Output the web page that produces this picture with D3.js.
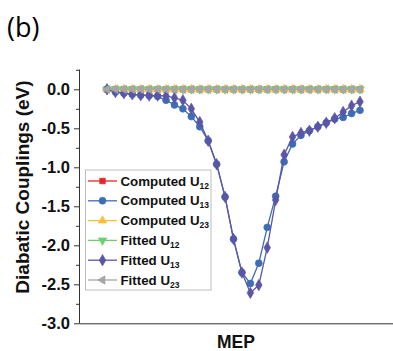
<!DOCTYPE html>
<html>
<head>
<meta charset="utf-8">
<script src="https://cdn.jsdelivr.net/npm/d3@7"></script>
<style>
  body { margin: 0; background: #fff; }
  text { font-family: Arial, "Liberation Sans", sans-serif; }
</style>
</head>
<body>
<div id="chart"></div>
<script>
// values, one per MEP point (31 points)
var mepIndex = d3.range(31);
var computedU12 = [0,0,0,0,0,0,0,0,0,0,0,0,0,0,0,0,0,0,0,0,0,0,0,0,0,0,0,0,0,0,0];
var computedU23 = [0,0,0,0,0,0,0,0,0,0,0,0,0,0,0,0,0,0,0,0,0,0,0,0,0,0,0,0,0,0,0];
var fittedU12   = [0,0,0,0,0,0,0,0,0,0,0,0,0,0,0,0,0,0,0,0,0,0,0,0,0,0,0,0,0,0,0];
var fittedU23   = [0,0,0,0,0,0,0,0,0,0,0,0,0,0,0,0,0,0,0,0,0,0,0,0,0,0,0,0,0,0,0];
var computedU13 = [0,-0.035,-0.05,-0.065,-0.075,-0.08,-0.09,-0.14,-0.2,-0.25,-0.35,-0.48,-0.66,-0.96,-1.38,
                   -1.92,-2.35,-2.49,-2.23,-1.77,-1.37,-0.93,-0.70,-0.59,-0.53,-0.48,-0.43,-0.38,-0.36,-0.31,-0.27];
var fittedU13   = [0,-0.035,-0.05,-0.065,-0.075,-0.08,-0.08,-0.085,-0.11,-0.14,-0.25,-0.42,-0.66,-0.96,-1.38,
                   -1.92,-2.35,-2.61,-2.51,-2.03,-1.42,-0.84,-0.61,-0.56,-0.53,-0.48,-0.43,-0.37,-0.29,-0.21,-0.16];
var yMajorTicks = [0.0,-0.5,-1.0,-1.5,-2.0,-2.5,-3.0];
var yMinorTicks = [0.25,-0.25,-0.75,-1.25,-1.75,-2.25,-2.75];

var series = [
  {name:"Computed U", sub:"12", values:computedU12, color:"#e3262b", symbol:d3.symbolSquare, size:32, rot:0},
  {name:"Computed U", sub:"13", values:computedU13, color:"#3d6db5", symbol:d3.symbolCircle, size:38, rot:0},
  {name:"Computed U", sub:"23", values:computedU23, color:"#f2c33a", symbol:d3.symbolTriangle, size:32, rot:0},
  {name:"Fitted U",   sub:"12", values:fittedU12,   color:"#6fcf6f", symbol:d3.symbolTriangle, size:32, rot:180},
  {name:"Fitted U",   sub:"13", values:fittedU13,   color:"#5b55a6", symbol:d3.symbolDiamond, size:38, rot:0},
  {name:"Fitted U",   sub:"23", values:fittedU23,   color:"#a6a6a6", symbol:d3.symbolTriangle, size:32, rot:-90}
];

var width = 393, height = 351;
var svg = d3.select("#chart").append("svg")
  .attr("width", width).attr("height", height);

var x = d3.scaleLinear().domain([0, 30]).range([107, 360]);
var y = d3.scaleLinear().domain([0.0, -3.0]).range([89.3, 323.3]);
var axisLeftX = 79, axisRightX = 393;

// panel label
svg.append("text").attr("x", 7).attr("y", 37)
  .style("font-size", "27px").style("font-family", "'Open Sans', sans-serif")
  .text("(b)");

// y axis
var yTop = y.invert(69);
var yAxisScale = y.copy().domain([yTop, -3.0]).range([69, 323.3]);
var gy = svg.append("g").attr("transform", "translate(" + axisLeftX + ",0)");
gy.call(d3.axisLeft(yAxisScale).tickValues(yMajorTicks).tickSize(5).tickSizeOuter(0)
  .tickFormat(d3.format(".1f")).tickPadding(4));
gy.selectAll(".tick text").style("font-size", "16.5px").style("font-weight", "bold")
  .attr("fill", "#111").text(function(d){ return d3.format(".1f")(d).replace("−", "-"); });
gy.append("g").call(d3.axisLeft(yAxisScale).tickValues(yMinorTicks).tickSize(3)
  .tickSizeOuter(0).tickFormat(""))
  .select(".domain").remove();
gy.selectAll("line, path").attr("stroke", "#333");

// x axis (no ticks)
var xAxisScale = x.copy().domain([x.invert(axisLeftX), x.invert(axisRightX)]).range([axisLeftX, axisRightX]);
var gx = svg.append("g").attr("transform", "translate(0," + y(-3.0) + ")");
gx.call(d3.axisBottom(xAxisScale).tickValues([]).tickSizeOuter(0));
gx.select(".domain").attr("stroke", "#333");

svg.append("text").attr("x", 236).attr("y", 348).attr("text-anchor", "middle")
  .style("font-size", "17.5px").style("font-weight", "bold").attr("fill", "#111")
  .text("MEP");

svg.append("text").attr("transform", "translate(29,187) rotate(-90)")
  .attr("text-anchor", "middle")
  .style("font-size", "19px").style("font-weight", "bold").attr("fill", "#111")
  .text("Diabatic Couplings (eV)");

// series
var line = d3.line().x(function(d, i){ return x(mepIndex[i]); }).y(function(d){ return y(d); });
series.forEach(function(s){
  var g = svg.append("g");
  g.append("path").datum(s.values).attr("d", line)
    .attr("fill", "none").attr("stroke", s.color).attr("stroke-width", 1.3);
  g.selectAll("path.mk").data(s.values).enter().append("path")
    .attr("class", "mk")
    .attr("d", d3.symbol().type(s.symbol).size(s.size))
    .attr("transform", function(d, i){ return "translate(" + x(mepIndex[i]) + "," + y(d) + ") rotate(" + s.rot + ")"; })
    .attr("fill", s.color).attr("stroke", s.color).attr("stroke-width", 0.6);
});

// legend
var lg = svg.append("g");
lg.append("rect").attr("x", 85.5).attr("y", 170).attr("width", 125.5).attr("height", 120)
  .attr("fill", "#fff").attr("stroke", "#bdbdbd").attr("stroke-width", 1);
series.forEach(function(s, i){
  var cy = 181 + i * 19.8;
  lg.append("line").attr("x1", 88).attr("x2", 117).attr("y1", cy).attr("y2", cy)
    .attr("stroke", s.color).attr("stroke-width", 1.3);
  lg.append("path").attr("d", d3.symbol().type(s.symbol).size(s.size))
    .attr("transform", "translate(102.5," + cy + ") rotate(" + s.rot + ")")
    .attr("fill", s.color).attr("stroke", s.color).attr("stroke-width", 0.6);
  var t = lg.append("text").attr("x", 120.5).attr("y", cy + 4.5)
    .style("font-size", "13.3px").style("font-weight", "bold").attr("fill", "#111");
  t.append("tspan").text(s.name);
  t.append("tspan").attr("dy", 3).style("font-size", "8.5px").text(s.sub);
});
</script>
</body>
</html>
